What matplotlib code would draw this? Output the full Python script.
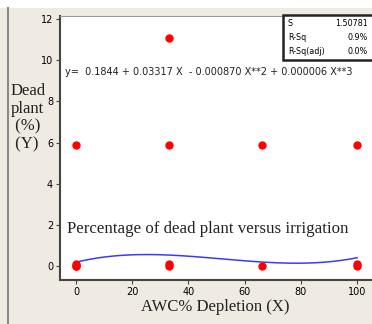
import matplotlib.pyplot as plt
import numpy as np
from matplotlib.patches import Rectangle
from matplotlib.lines import Line2D

depletion = [0, 0, 0, 0, 33, 33, 33, 33, 66, 66, 100, 100, 100]
dead = [0, 0.08, 0, 5.9, 11.1, 5.9, 0, 0.08, 5.9, 0, 5.9, 0, 0.08]

# fitted cubic (low -> high order)
coef = [0.1844, 0.03317, -0.000870, 0.0000056]
eq_text = "y=  0.1844 + 0.03317 X  - 0.000870 X**2 + 0.000006 X**3"

stat_names = ["S", "R-Sq", "R-Sq(adj)"]
stat_vals = ["1.50781", "0.9%", "0.0%"]

xticks = [0, 20, 40, 60, 80, 100]
yticks = [0, 2, 4, 6, 8, 10, 12]

fig = plt.figure(figsize=(3.72, 3.24), dpi=100)
fig.patch.set_facecolor('white')
fig.patches.append(Rectangle((0, 0), 1, 316 / 324, transform=fig.transFigure,
                             facecolor='#efebe2', edgecolor='none', zorder=-2))
fig.lines.append(Line2D([7.5 / 372, 7.5 / 372], [0, 316 / 324], transform=fig.transFigure,
                        color='#8a8a8a', lw=1.5, zorder=-1))

ax = fig.add_axes([60 / 372, 44 / 324, 312 / 372, 264 / 324])
ax.set_facecolor('white')

xs = np.linspace(0, 100, 200)
ax.plot(xs, np.polynomial.polynomial.polyval(xs, coef), color='#3a3aff', lw=1.1, zorder=2)
ax.plot(depletion, dead, 'o', color='red', ms=5, mec='red', zorder=3)

ax.set_xlim(-5.7, 105.3)
ax.set_ylim(-0.68, 12.15)
ax.set_xticks(xticks)
ax.set_yticks(yticks)
ax.tick_params(labelsize=7, length=3, width=0.8, color='#444444', pad=2)

for s in ['left', 'bottom']:
    ax.spines[s].set_color('#444444')
    ax.spines[s].set_linewidth(1.5)
ax.spines['right'].set_visible(False)
ax.spines['top'].set_color('#999999')
ax.spines['top'].set_linewidth(0.8)

ax.text(65, 324 - 72, eq_text, transform=None, fontsize=7,
        va='center', ha='left', color='#222222')
ax.text(67, 324 - 229, "Percentage of dead plant versus irrigation", transform=None,
        fontsize=12.2, family='Liberation Serif', va='center', ha='left', color='#222222')
fig.text(215 / 372, 1 - 307 / 324, "AWC% Depletion (X)", fontsize=12,
         family='Liberation Serif', ha='center', va='center', color='#222222')
fig.text(11 / 372, 1 - 83 / 324, "Dead\nplant\n (%)\n (Y)", fontsize=12,
         family='Liberation Serif', ha='left', va='top', color='#222222', linespacing=1.15)

# stats box
fig.patches.append(Rectangle((283 / 372, 1 - 60 / 324), 95 / 372, 45 / 324,
                             transform=fig.transFigure, facecolor='white',
                             edgecolor='#222222', lw=1.8, zorder=5))
for i, (n, v) in enumerate(zip(stat_names, stat_vals)):
    yy = 1 - (24 + i * 13.5) / 324
    fig.text(288 / 372, yy, n, fontsize=5.8,
             va='center', ha='left', zorder=6)
    fig.text(368 / 372, yy, v, fontsize=5.8,
             va='center', ha='right', zorder=6)

fig.savefig('out.png', dpi=100, facecolor=fig.get_facecolor())
